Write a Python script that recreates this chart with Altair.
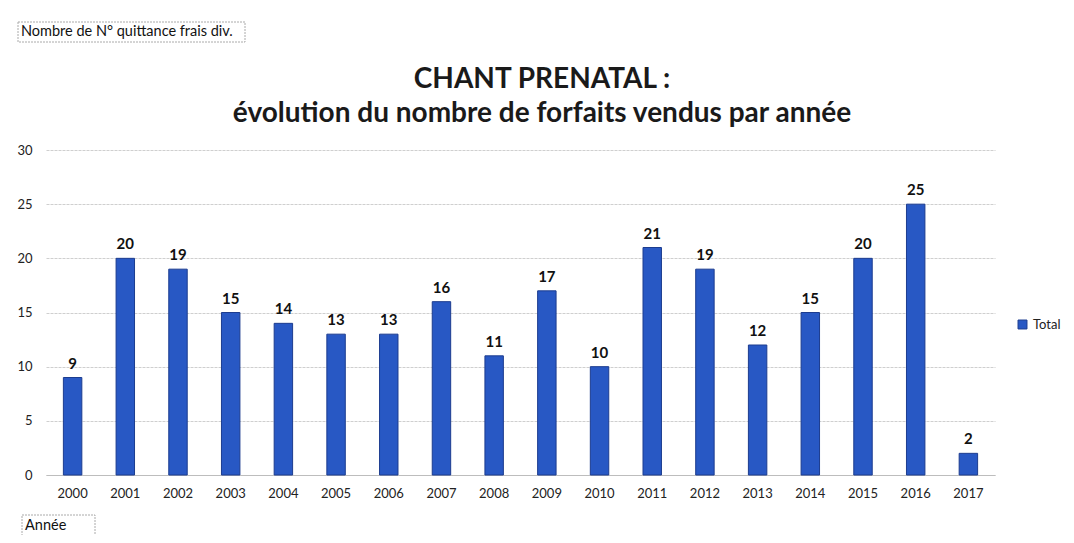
import altair as alt
import pandas as pd

years = [str(y) for y in range(2000, 2018)]
values = [9, 20, 19, 15, 14, 13, 13, 16, 11, 17, 10, 21, 19, 12, 15, 20, 25, 2]
series = ["Total"] * len(years)
y_ticks = [0, 5, 10, 15, 20, 25, 30]
title_lines = ["CHANT PRENATAL :", "évolution du nombre de forfaits vendus par année"]

df = pd.DataFrame({"Année": years, "Valeur": values, "Série": series})
one = pd.DataFrame({"k": [0]})

FONT = "Lato"
BAR = "#2858c4"

base = alt.Chart(df)

x_enc = alt.X("Année:N", sort=years,
              scale=alt.Scale(paddingInner=0.65, paddingOuter=0.33),
              axis=alt.Axis(title=None, labelAngle=0, ticks=False, domain=True,
                            domainColor="#bdbdbd", labelPadding=12,
                            labelFontSize=13, labelColor="#222", labelFont=FONT))
y_enc = alt.Y("Valeur:Q", scale=alt.Scale(domain=[0, 30], nice=False),
              axis=alt.Axis(title=None, values=y_ticks, ticks=False, domain=False,
                            gridColor="#cfcfcf", gridDash=[3, 1], labelPadding=14,
                            labelFontSize=13, labelColor="#222", labelFont=FONT))

bars = base.mark_bar(stroke="#1c3c8f", strokeWidth=1).encode(
    x=x_enc,
    y=y_enc,
    color=alt.Color("Série:N", scale=alt.Scale(range=[BAR]),
                    legend=alt.Legend(title=None, orient="none", legendX=970, legendY=168,
                                      symbolType="square", symbolSize=80,
                                      symbolStrokeColor="#1c3c8f", symbolStrokeWidth=1,
                                      labelFontSize=13, labelFont=FONT, labelColor="#222")),
)

labels = base.mark_text(dy=-14, fontSize=15, fontWeight="bold", font=FONT, color="#111").encode(
    x=alt.X("Année:N", sort=years),
    y="Valeur:Q",
    text="Valeur:Q",
)

b1 = alt.Chart(one)
box1 = b1.mark_rect(fill="white", stroke="#aaa", strokeDash=[2, 1], strokeWidth=1).encode(
    x=alt.value(-28), x2=alt.value(199), y=alt.value(-128), y2=alt.value(-108))
txt1 = b1.mark_text(align="left", baseline="middle", fontSize=14.5, font=FONT, color="#111",
                    text="Nombre de N° quittance frais div.").encode(
    x=alt.value(-25), y=alt.value(-118))

box2 = b1.mark_rect(fill="white", stroke="#aaa", strokeDash=[2, 1], strokeWidth=1).encode(
    x=alt.value(-24), x2=alt.value(49), y=alt.value(365), y2=alt.value(388))
txt2 = b1.mark_text(align="left", baseline="middle", fontSize=14.5, font=FONT, color="#111",
                    text="Année").encode(
    x=alt.value(-21), y=alt.value(376))

t1 = b1.mark_text(align="center", baseline="alphabetic", fontSize=28, fontWeight="bold",
                  font=FONT, color="#1a1a1a", text=title_lines[0]).encode(
    x=alt.value(496), y=alt.value(-62))
t2 = b1.mark_text(align="center", baseline="alphabetic", fontSize=28, fontWeight="bold",
                  font=FONT, color="#1a1a1a", text=title_lines[1]).encode(
    x=alt.value(496), y=alt.value(-28))

chart = alt.layer(bars, labels, box1, txt1, box2, txt2, t1, t2).properties(
    width=949, height=325,
    autosize=alt.AutoSizeParams(type="none"),
    padding={"left": 38, "top": 142, "right": 71, "bottom": 60},
).configure(background="white").configure_view(strokeWidth=0)

chart.save("out.html", embed_options={"renderer": "svg", "actions": False})
